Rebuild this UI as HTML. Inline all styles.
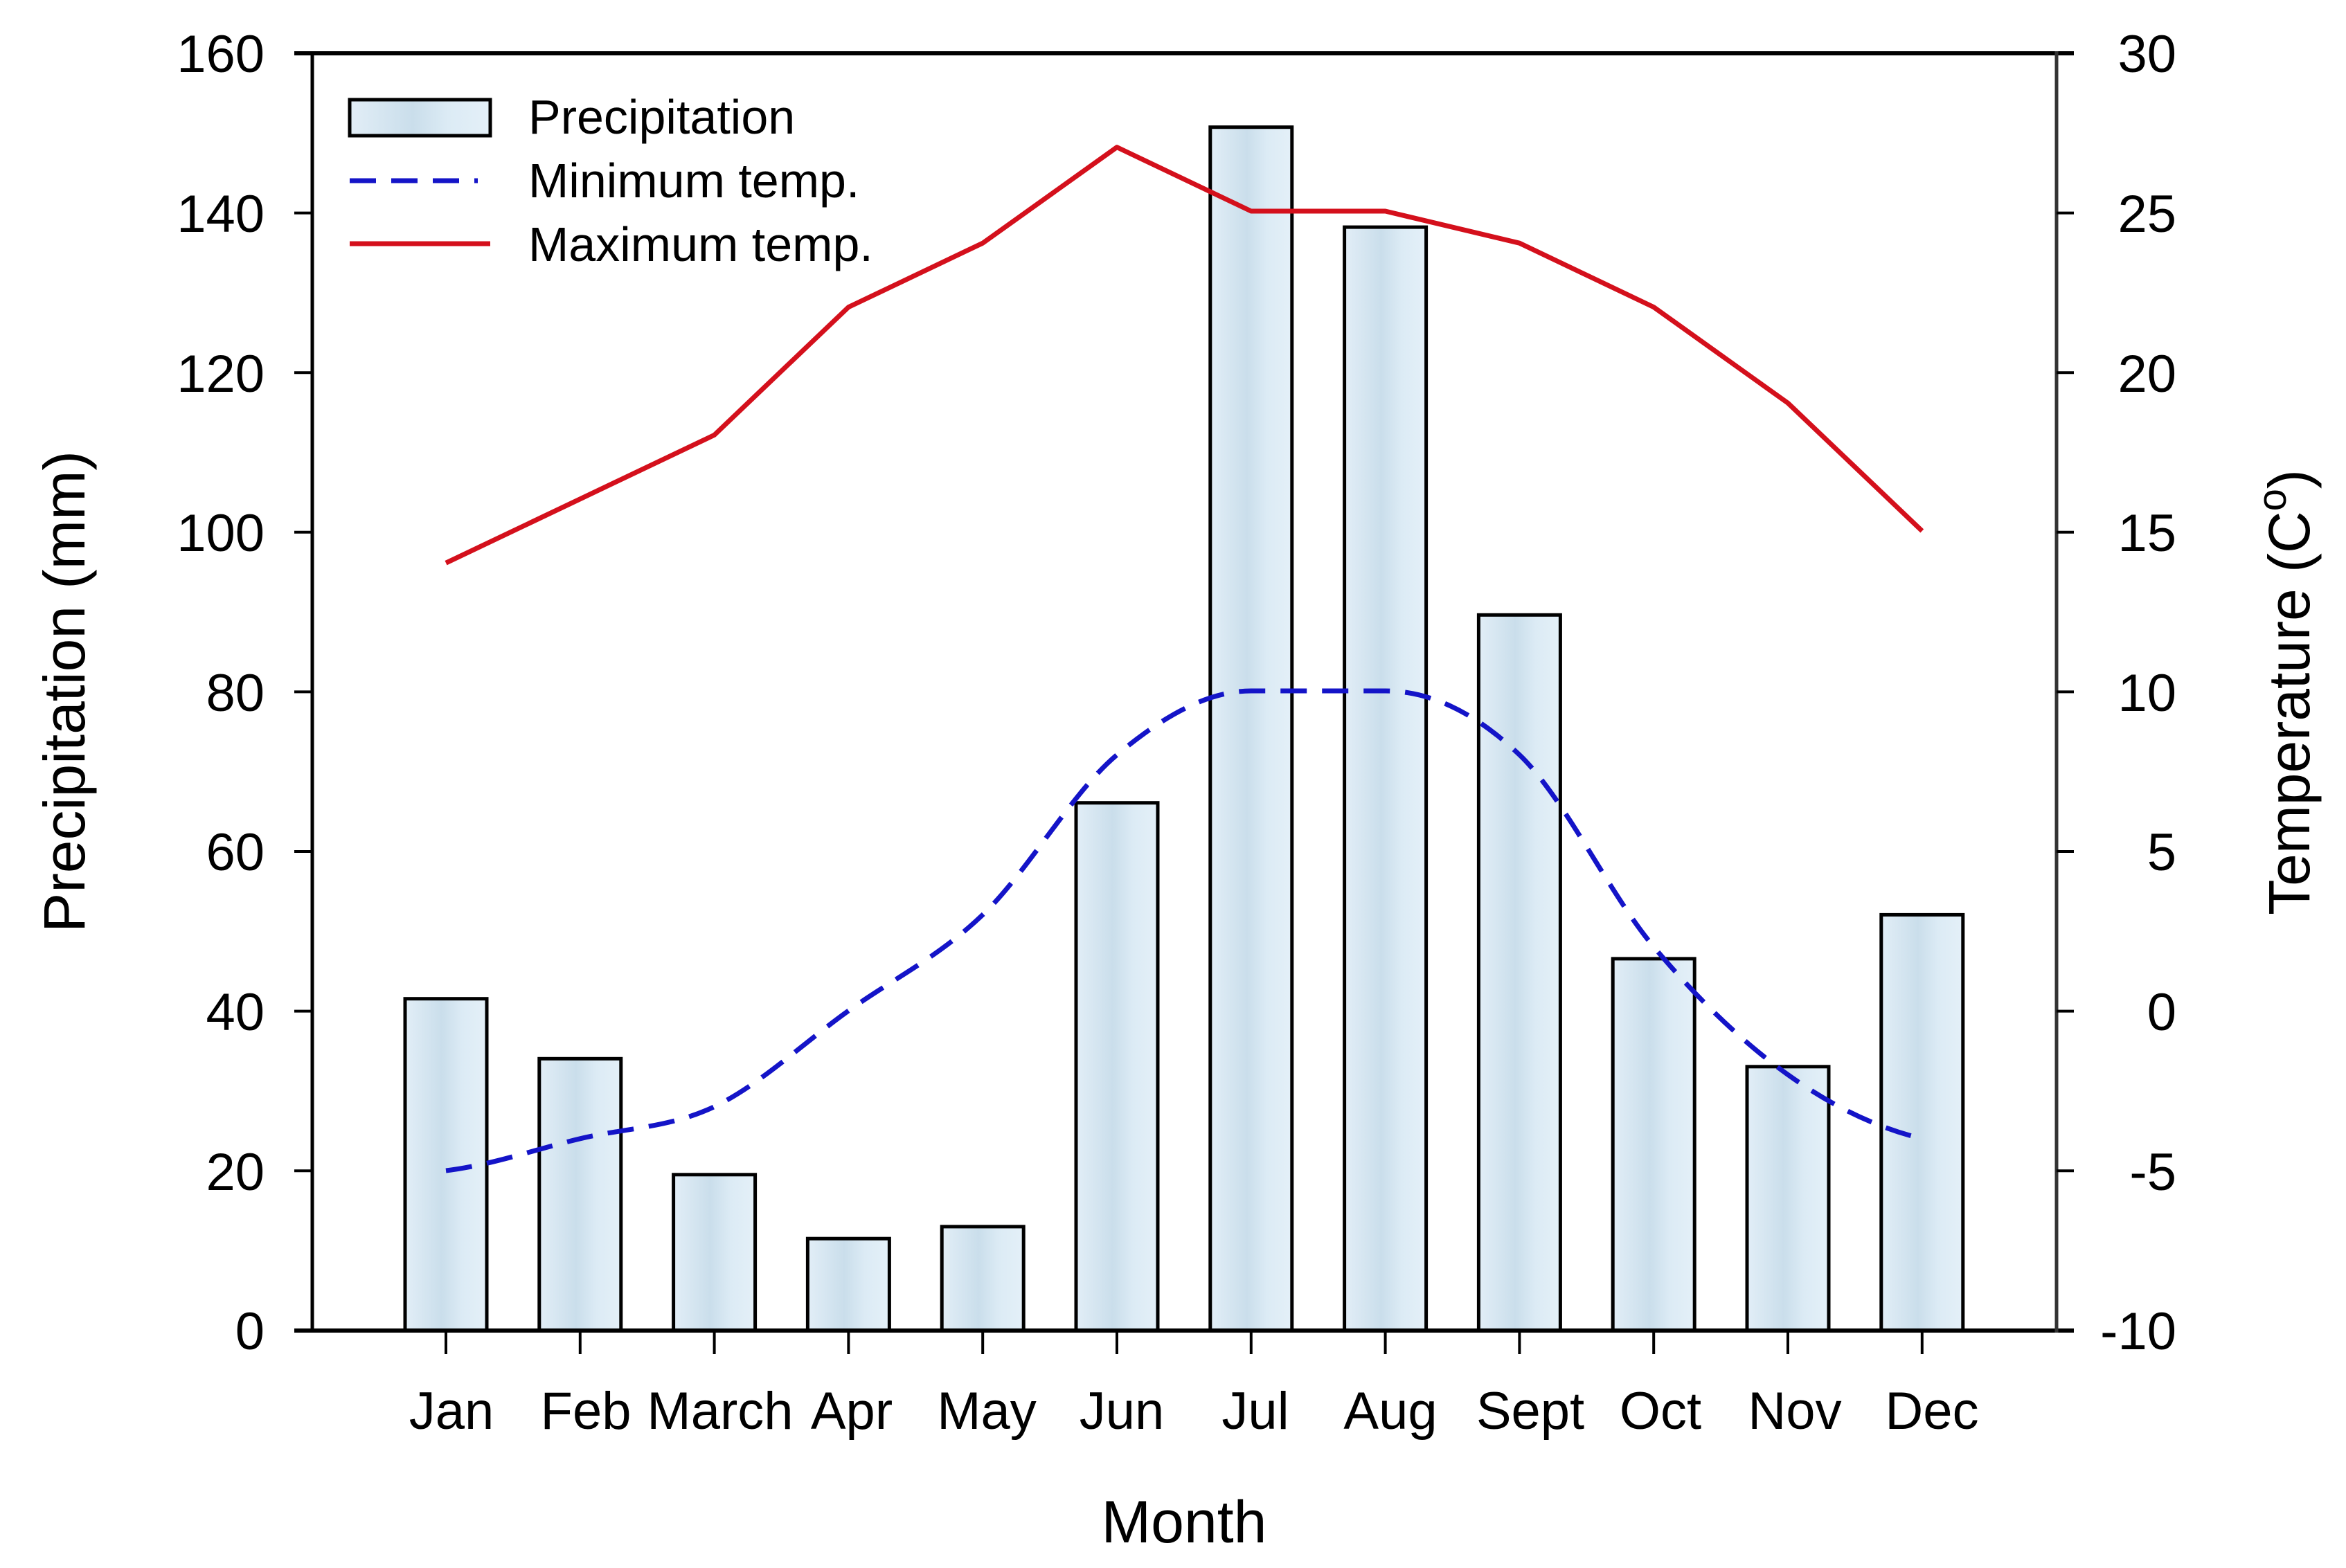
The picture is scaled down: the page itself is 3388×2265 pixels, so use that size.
<!DOCTYPE html>
<html><head><meta charset="utf-8"><style>
html,body{margin:0;padding:0;background:#fff;}
svg{display:block;}
text{font-family:"Liberation Sans",Arial,sans-serif;fill:#000;}
</style></head><body>
<svg width="3388" height="2265" viewBox="0 0 3388 2265" xmlns="http://www.w3.org/2000/svg">
<defs>
<linearGradient id="bg" x1="0" x2="1" y1="0" y2="0">
<stop offset="0" stop-color="#e2eef7"/>
<stop offset="0.45" stop-color="#cadeeb"/>
<stop offset="0.7" stop-color="#dcebf5"/>
<stop offset="1" stop-color="#e4f0f8"/>
</linearGradient>
</defs>
<g fill="url(#bg)" stroke="#000" stroke-width="5">
<rect x="585" y="1442.7" width="118" height="479.3"/>
<rect x="778.8" y="1529.3" width="118" height="392.7"/>
<rect x="972.6" y="1696.8" width="118" height="225.2"/>
<rect x="1166.4" y="1789.2" width="118" height="132.8"/>
<rect x="1360.2" y="1771.9" width="118" height="150.1"/>
<rect x="1554" y="1159.7" width="118" height="762.3"/>
<rect x="1747.8" y="183.7" width="118" height="1738.3"/>
<rect x="1941.6" y="328.1" width="118" height="1593.9"/>
<rect x="2135.4" y="888.3" width="118" height="1033.7"/>
<rect x="2329.2" y="1384.9" width="118" height="537.1"/>
<rect x="2523" y="1540.8" width="118" height="381.2"/>
<rect x="2716.8" y="1321.4" width="118" height="600.6"/>
</g>
<polyline fill="none" stroke="#d4101c" stroke-width="7" stroke-linejoin="round" points="644,813.2 837.8,720.8 1031.6,628.4 1225.4,443.6 1419.2,351.2 1613,212.6 1806.8,305 2000.6,305 2194.4,351.2 2388.2,443.6 2582,582.2 2775.8,767"/>
<path fill="none" stroke="#1414c8" stroke-width="7" stroke-dasharray="38,22" d="M644,1691 C708.6,1683.3 773.2,1660.2 837.8,1644.8 C902.4,1629.4 967,1629.4 1031.6,1598.6 C1096.2,1567.8 1160.8,1506.2 1225.4,1460 C1290,1413.8 1354.6,1383 1419.2,1321.4 C1483.8,1259.8 1548.4,1144.3 1613,1090.4 C1677.6,1036.5 1742.2,998 1806.8,998 L2000.6,998 C2065.2,998 2129.8,1028.8 2194.4,1090.4 C2259,1152 2323.6,1290.6 2388.2,1367.6 C2452.8,1444.6 2517.4,1506.2 2582,1552.4 C2646.6,1598.6 2711.2,1629.4 2775.8,1644.8"/>
<g stroke="#000">
<line x1="425" y1="77" x2="2995" y2="77" stroke-width="6"/>
<line x1="425" y1="1922" x2="2995" y2="1922" stroke-width="6"/>
<line x1="451" y1="74" x2="451" y2="1925" stroke-width="5"/>
<line x1="2970" y1="74" x2="2970" y2="1925" stroke-width="5" stroke="#333"/>
<g stroke-width="4">
<line x1="425" x2="451" y1="307.6" y2="307.6"/><line x1="425" x2="451" y1="538.2" y2="538.2"/><line x1="425" x2="451" y1="768.8" y2="768.8"/><line x1="425" x2="451" y1="999.4" y2="999.4"/><line x1="425" x2="451" y1="1230" y2="1230"/><line x1="425" x2="451" y1="1460.6" y2="1460.6"/><line x1="425" x2="451" y1="1691.2" y2="1691.2"/>
<line x1="2970" x2="2995" y1="307.6" y2="307.6"/><line x1="2970" x2="2995" y1="538.2" y2="538.2"/><line x1="2970" x2="2995" y1="768.8" y2="768.8"/><line x1="2970" x2="2995" y1="999.4" y2="999.4"/><line x1="2970" x2="2995" y1="1230" y2="1230"/><line x1="2970" x2="2995" y1="1460.6" y2="1460.6"/><line x1="2970" x2="2995" y1="1691.2" y2="1691.2"/>
<line x1="644" x2="644" y1="1922" y2="1956"/><line x1="837.8" x2="837.8" y1="1922" y2="1956"/><line x1="1031.6" x2="1031.6" y1="1922" y2="1956"/><line x1="1225.4" x2="1225.4" y1="1922" y2="1956"/><line x1="1419.2" x2="1419.2" y1="1922" y2="1956"/><line x1="1613" x2="1613" y1="1922" y2="1956"/><line x1="1806.8" x2="1806.8" y1="1922" y2="1956"/><line x1="2000.6" x2="2000.6" y1="1922" y2="1956"/><line x1="2194.4" x2="2194.4" y1="1922" y2="1956"/><line x1="2388.2" x2="2388.2" y1="1922" y2="1956"/><line x1="2582" x2="2582" y1="1922" y2="1956"/><line x1="2775.8" x2="2775.8" y1="1922" y2="1956"/>
</g>
</g>
<g font-size="76" text-anchor="end">
<text x="382" y="104">160</text><text x="382" y="335">140</text><text x="382" y="566">120</text><text x="382" y="796">100</text><text x="382" y="1027">80</text><text x="382" y="1257">60</text><text x="382" y="1488">40</text><text x="382" y="1719">20</text><text x="382" y="1949">0</text>
</g>
<g font-size="76" text-anchor="end">
<text x="3143" y="104">30</text><text x="3143" y="335">25</text><text x="3143" y="566">20</text><text x="3143" y="796">15</text><text x="3143" y="1027">10</text><text x="3143" y="1257">5</text><text x="3143" y="1488">0</text><text x="3143" y="1719">-5</text><text x="3143" y="1949">-10</text>
</g>
<g font-size="76" text-anchor="middle">
<text x="652" y="2064">Jan</text><text x="846" y="2064">Feb</text><text x="1040" y="2064">March</text><text x="1230" y="2064">Apr</text><text x="1425" y="2064">May</text><text x="1620" y="2064">Jun</text><text x="1813" y="2064">Jul</text><text x="2008" y="2064">Aug</text><text x="2210" y="2064">Sept</text><text x="2398" y="2064">Oct</text><text x="2592" y="2064">Nov</text><text x="2790" y="2064">Dec</text>
</g>
<text x="1710" y="2228" font-size="86" text-anchor="middle">Month</text>
<text transform="translate(122,999) rotate(-90)" font-size="84" text-anchor="middle" textLength="696" lengthAdjust="spacingAndGlyphs">Precipitation (mm)</text>
<text transform="translate(3335,1000) rotate(-90)" font-size="84" text-anchor="middle">Temperature (C<tspan font-size="58" dy="-34">o</tspan><tspan dy="34">)</tspan></text>
<rect x="505" y="144" width="203" height="52" fill="url(#bg)" stroke="#000" stroke-width="5"/>
<line x1="505" y1="261" x2="690" y2="261" stroke="#1414c8" stroke-width="7" stroke-dasharray="38,22"/>
<line x1="505" y1="352" x2="708" y2="352" stroke="#d4101c" stroke-width="7"/>
<g font-size="70">
<text x="763" y="193">Precipitation</text>
<text x="763" y="285">Minimum temp.</text>
<text x="763" y="377">Maximum temp.</text>
</g>
</svg>
</body></html>
